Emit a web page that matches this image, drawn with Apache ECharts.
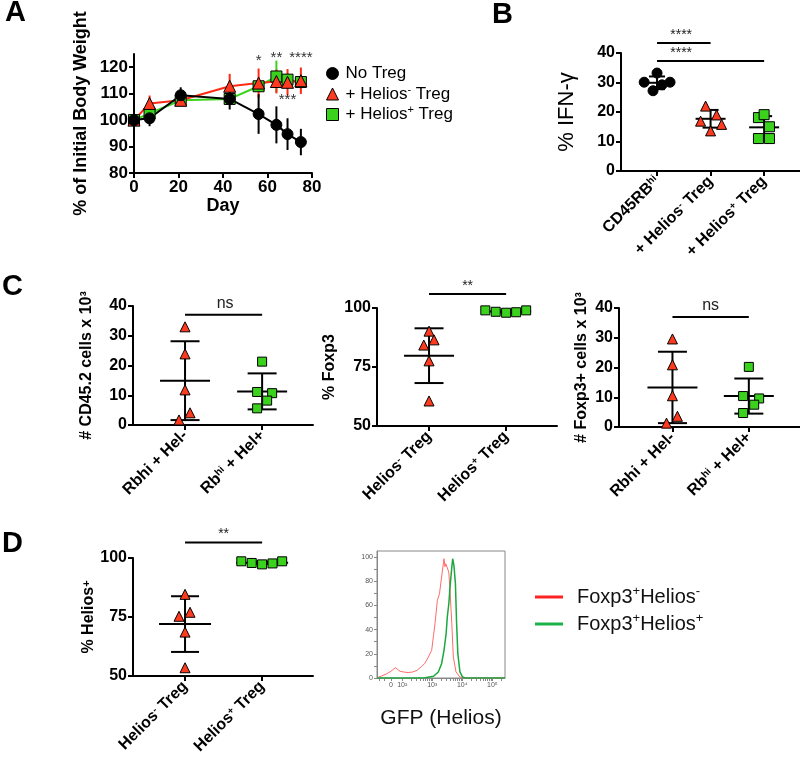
<!DOCTYPE html>
<html><head><meta charset="utf-8">
<script src="https://cdn.jsdelivr.net/npm/echarts@6/dist/echarts.min.js"></script>
<style>html,body{margin:0;padding:0;background:#fff}#c{width:800px;height:761px}</style>
</head><body><div id="c"></div><script>
const FONT = '"Liberation Sans", Arial, Helvetica, sans-serif';
const RED = '#ff3b1f', GREEN = '#3ad21c';

// ---------- Panel A : body weight ----------
const daysA = [0, 7, 21, 43, 56, 64, 69, 75];
const noTregMean = [100, 100.7, 109.4, 108, 102.3, 98.2, 94.7, 91.7];
const noTregSD   = [0, 3, 3, 4, 7.5, 7, 6, 5];
const helNegMean = [100, 106.3, 107.5, 112.8, 114, 114.6, 114.3, 114.9];
const helNegSD   = [0, 3, 1, 4.7, 5.5, 4.5, 5, 5];
const helPosMean = [100, 102.5, 107.5, 108, 112.8, 116.5, 115.3, 114.4];
const helPosSD   = [0, 2, 1, 1.5, 2, 6, 2.5, 2];
const sigADays = [56, 64, 75, 69];
const sigAY    = [122.3, 123.6, 123.6, 107.6];
const sigAText = ['*', '**', '****', '***'];
const legendA = ['No Treg', '+ Helios- Treg', '+ Helios+ Treg'];

// ---------- Panel B : IFN-gamma ----------
const bLabels = ['CD45RBhi', '+ Helios- Treg', '+ Helios+ Treg'];
const bNoTreg = [30.1, 27.2, 33.2, 29.2, 30.1];
const bNoTregOff = [-0.24, -0.075, 0, 0.093, 0.243];
const bHelNeg = [22, 16.9, 19, 15.8, 13.6];
const bHelNegOff = [-0.093, -0.187, 0.112, 0.206, 0];
const bHelPos = [18.1, 19.1, 15, 11, 11];
const bHelPosOff = [-0.106, 0, 0.1, -0.106, 0.1];
const bMean = [29.9, 17.7, 14.8];
const bSD = [2.15, 3, 3.8];
const bSigFrom = [1, 1], bSigTo = [2, 3], bSigY = [43.4, 37.3], bSigText = ['****', '****'];

// ---------- Panel C1 : CD45.2 cells ----------
const c1Labels = ['Rbhi + Hel-', 'Rb^hi + Hel+'];
const c1Neg = [33, 23.9, 11.8, 4.1, 1.7];
const c1NegOff = [0, 0, 0, 0.065, -0.078];
const c1Pos = [21.3, 11.1, 10.7, 8.2, 5.6];
const c1PosOff = [0, -0.065, 0.13, 0.065, -0.065];
const c1Mean = [14.9, 11.3], c1SD = [13.25, 6.05];
const c1SigY = 37.1, c1SigText = 'ns';

// ---------- Panel C2 : % Foxp3 ----------
const c2Labels = ['Helios- Treg', 'Helios+ Treg'];
const c2Neg = [90.2, 84.3, 86.5, 77.6, 60.6];
const c2NegOff = [0, -0.068, 0.065, 0, 0];
const c2Pos = [99, 98.4, 98, 98.2, 99];
const c2PosOff = [-0.27, -0.135, 0, 0.13, 0.26];
const c2Mean = [79.8, 98.5], c2SD = [11.6, 0.45];
const c2SigY = 105.9, c2SigText = '**';

// ---------- Panel C3 : Foxp3+ cells ----------
const c3Labels = ['Rbhi + Hel-', 'Rb^hi + Hel+'];
const c3Neg = [29.6, 20.9, 10.5, 3.6, 1.3];
const c3NegOff = [0, 0, 0, 0.065, -0.078];
const c3Pos = [20.2, 10.4, 9.6, 7.5, 4.7];
const c3PosOff = [0, -0.075, 0.135, 0.07, -0.075];
const c3Mean = [13.3, 10.4], c3SD = [12, 5.9];
const c3SigY = 37, c3SigText = 'ns';

// ---------- Panel D : % Helios+ ----------
const dLabels = ['Helios- Treg', 'Helios+ Treg'];
const dNeg = [84.6, 75.3, 77, 68.6, 53.5];
const dNegOff = [0, -0.078, 0.065, 0, 0];
const dPos = [98.6, 97.9, 97.3, 97.7, 98.6];
const dPosOff = [-0.27, -0.135, 0, 0.135, 0.26];
const dMean = [72, 98], dSD = [11.8, 0.5];
const dSigY = 106.6, dSigText = '**';

// ---------- Histogram ----------
const histRedX = [1.16,1.3,1.49,1.62,1.77,1.85,1.93,2.04,2.2,2.35,2.49,2.54,2.65,2.75,2.87,2.98,3.04,3.09,3.17,3.24,3.31,3.39,3.42,3.45,3.5,3.55,3.59,3.65,3.7,3.79,3.92,4.03,4.5,5.0,5.42];
const histRedY = [0.3,1.5,3.6,5.5,8.5,7,5.5,5,4.5,5,6.3,7.7,9.6,12,17.4,22.9,35,44.9,64.2,69.7,83.5,98.6,92,94.5,94,87.6,72.5,44.9,17.4,5,0.8,0,0,0,0];
const histGreenX = [1.16,2.5,2.76,3.04,3.2,3.31,3.39,3.46,3.5,3.55,3.59,3.65,3.68,3.72,3.77,3.81,3.85,3.92,4.01,4.09,5.42];
const histGreenY = [0,0,0.3,1.4,5,11.8,22.9,36.6,50.4,61.4,75.2,91.7,98.6,93.1,78,44.9,20.1,5,0.8,0,0];
const histXLabelVals = [1.62, 2, 3, 4, 5];
const histXLabels = ['0', '10²', '10³', '10⁴', '10⁵'];
const histLegend = ['Foxp3+Helios-', 'Foxp3+Helios+'];

// ================= helpers =================
const SUP = {
  b: {fontFamily: FONT, fontWeight: 'bold', fontSize: 16, color: '#000'},
  s: {fontFamily: FONT, fontWeight: 'bold', fontSize: 10, color: '#000', verticalAlign: 'top'}
};
function supText(t) {
  let m;
  if ((m = t.match(/^(.*)\^hi(.*)$/))) return '{b|' + m[1] + '}{s|hi}{b|' + m[2] + '}';
  if ((m = t.match(/^(.*Helios)([+-])(.*)$/))) return '{b|' + m[1] + '}{s|' + m[2] + '}' + (m[3] ? '{b|' + m[3] + '}' : '');
  if ((m = t.match(/^(.*RB)hi$/))) return '{b|' + m[1] + '}{s|hi}';
  return '{b|' + t + '}';
}
const axisLineBlack = {show: true, onZero: false, lineStyle: {color: '#000', width: 2}};
const tickBlack = {show: true, length: 5, lineStyle: {color: '#000', width: 2}};
function numLabel(fs) { return {color: '#000', fontFamily: FONT, fontWeight: 'bold', fontSize: fs, margin: 6}; }

function catX(gi, min, max, labels) {
  const vals = labels.map((_, i) => i + 1);
  return {type: 'value', gridIndex: gi, min, max, axisLine: axisLineBlack,
    axisTick: Object.assign({customValues: vals}, tickBlack), splitLine: {show: false},
    axisLabel: {customValues: vals, rotate: 45, margin: 8, interval: 0,
      formatter: v => supText(labels[Math.round(v) - 1]), rich: SUP}};
}
function numY(gi, min, max, interval, name, gap, nameStyle) {
  return {type: 'value', gridIndex: gi, min, max, interval, axisLine: axisLineBlack, axisTick: tickBlack,
    splitLine: {show: false}, axisLabel: numLabel(16), name, nameLocation: 'middle', nameGap: gap,
    nameMoveOverlap: false, nameTextStyle: nameStyle};
}
const boldName16 = {fontFamily: FONT, fontWeight: 'bold', fontSize: 16, color: '#000'};

const series = [];
function errBars(gi, data, opt) {
  series.push({type: 'custom', xAxisIndex: gi, yAxisIndex: gi, data, silent: true, z: 2,
    renderItem(params, api) {
      const x = api.value(0), m = api.value(1), s = api.value(2);
      const c = api.coord([x, m]), t = api.coord([x, m + s]), b = api.coord([x, m - s]);
      const st = {stroke: opt.color, lineWidth: opt.width};
      const ch = [];
      if (s > 0) ch.push({type: 'line', shape: {x1: c[0], y1: t[1], x2: c[0], y2: b[1]}, style: st});
      if (opt.mean) ch.push({type: 'line', shape: {x1: c[0] - opt.mean, y1: c[1], x2: c[0] + opt.mean, y2: c[1]}, style: st});
      if (opt.cap && s > 0) {
        ch.push({type: 'line', shape: {x1: c[0] - opt.cap, y1: t[1], x2: c[0] + opt.cap, y2: t[1]}, style: st});
        ch.push({type: 'line', shape: {x1: c[0] - opt.cap, y1: b[1], x2: c[0] + opt.cap, y2: b[1]}, style: st});
      }
      return {type: 'group', children: ch};
    }});
}
function dots(gi, cat, vals, offs, symbol, color, size) {
  series.push({type: 'scatter', xAxisIndex: gi, yAxisIndex: gi, z: 4,
    data: vals.map((v, i) => [cat + offs[i], v]), symbol, symbolSize: size,
    itemStyle: {color, borderColor: '#000', borderWidth: 1, opacity: 1}});
}
function sigBar(gi, x1, x2, y, tx, text, fs, gap) {
  series.push({type: 'custom', xAxisIndex: gi, yAxisIndex: gi, silent: true, z: 3,
    data: [[x1, y, x2, tx]],
    renderItem(params, api) {
      const a = api.coord([api.value(0), api.value(1)]);
      const b = api.coord([api.value(2), api.value(1)]);
      const t = api.coord([api.value(3), api.value(1)]);
      return {type: 'group', children: [
        {type: 'line', shape: {x1: a[0], y1: a[1], x2: b[0], y2: b[1]}, style: {stroke: '#000', lineWidth: 2}},
        {type: 'text', x: t[0], y: t[1] - gap, style: {text, fill: '#222', font: fs + 'px ' + FONT, align: 'center', verticalAlign: 'bottom'}}
      ]};
    }});
}
function dotPanel(gi, groups, means, sds, meanHalf, capHalf) {
  means.forEach((m, i) => errBars(gi, [[i + 1, m, sds[i]]], {color: '#000', width: 2, mean: meanHalf, cap: capHalf}));
  groups.forEach((g, i) => dots(gi, i + 1, g.v, g.o, g.sym, g.col, g.size));
}

// ---------- Panel A series ----------
errBars(0, daysA.map((d, i) => [d, helPosMean[i], helPosSD[i]]), {color: GREEN, width: 2});
errBars(0, daysA.map((d, i) => [d, helNegMean[i], helNegSD[i]]), {color: '#ff2a14', width: 2});
errBars(0, daysA.map((d, i) => [d, noTregMean[i], noTregSD[i]]), {color: '#000', width: 2});
series.push({type: 'line', name: legendA[2], xAxisIndex: 0, yAxisIndex: 0, z: 5,
  data: daysA.map((d, i) => [d, helPosMean[i]]), symbol: 'rect', symbolSize: 11, showAllSymbol: true,
  itemStyle: {color: GREEN, borderColor: '#000', borderWidth: 1}, lineStyle: {color: GREEN, width: 2}});
series.push({type: 'line', name: legendA[1], xAxisIndex: 0, yAxisIndex: 0, z: 5,
  data: daysA.map((d, i) => [d, helNegMean[i]]), symbol: 'triangle', symbolSize: 12, showAllSymbol: true,
  itemStyle: {color: RED, borderColor: '#000', borderWidth: 1}, lineStyle: {color: '#ff2a14', width: 2}});
series.push({type: 'line', name: legendA[0], xAxisIndex: 0, yAxisIndex: 0, z: 5,
  data: daysA.map((d, i) => [d, noTregMean[i]]), symbol: 'circle', symbolSize: 11, showAllSymbol: true,
  itemStyle: {color: '#000', borderColor: '#000', borderWidth: 1}, lineStyle: {color: '#000', width: 2}});
series.push({type: 'custom', xAxisIndex: 0, yAxisIndex: 0, silent: true, z: 6,
  data: sigADays.map((d, i) => [d, sigAY[i], i]),
  renderItem(params, api) {
    const c = api.coord([api.value(0), api.value(1)]);
    return {type: 'text', x: c[0], y: c[1], style: {text: sigAText[api.value(2)], fill: '#333', font: '15px ' + FONT, align: 'center', verticalAlign: 'middle'}};
  }});

// ---------- Panel B series ----------
dotPanel(1, [
  {v: bNoTreg, o: bNoTregOff, sym: 'circle', col: '#000', size: 10},
  {v: bHelNeg, o: bHelNegOff, sym: 'triangle', col: RED, size: 10},
  {v: bHelPos, o: bHelPosOff, sym: 'rect', col: GREEN, size: 10}], bMean, bSD, 15, 8);
bSigFrom.forEach((f, i) => sigBar(1, f, bSigTo[i], bSigY[i], 1.45, bSigText[i], 14, 1));

// ---------- Panel C ----------
dotPanel(2, [{v: c1Neg, o: c1NegOff, sym: 'triangle', col: RED, size: 10},
             {v: c1Pos, o: c1PosOff, sym: 'rect', col: GREEN, size: 9}], c1Mean, c1SD, 25, 14.5);
sigBar(2, 1, 2, c1SigY, 1.52, c1SigText, 16, 3);
dotPanel(3, [{v: c2Neg, o: c2NegOff, sym: 'triangle', col: RED, size: 10},
             {v: c2Pos, o: c2PosOff, sym: 'rect', col: GREEN, size: 9}], c2Mean, c2SD, 25, 14.5);
sigBar(3, 1, 2, c2SigY, 1.5, c2SigText, 14, 1);
dotPanel(4, [{v: c3Neg, o: c3NegOff, sym: 'triangle', col: RED, size: 10},
             {v: c3Pos, o: c3PosOff, sym: 'rect', col: GREEN, size: 9}], c3Mean, c3SD, 25, 14.5);
sigBar(4, 1, 2, c3SigY, 1.5, c3SigText, 16, 3);

// ---------- Panel D ----------
dotPanel(5, [{v: dNeg, o: dNegOff, sym: 'triangle', col: RED, size: 10},
             {v: dPos, o: dPosOff, sym: 'rect', col: GREEN, size: 9}], dMean, dSD, 26, 14);
sigBar(5, 1, 2, dSigY, 1.5, dSigText, 14, 1);

// ---------- Histogram ----------
series.push({type: 'line', name: histLegend[0], xAxisIndex: 6, yAxisIndex: 6, showSymbol: false, z: 3,
  data: histRedX.map((x, i) => [x, histRedY[i]]), lineStyle: {color: '#ff6a6a', width: 1}, itemStyle: {color: '#ff2222'}});
series.push({type: 'line', name: histLegend[1], xAxisIndex: 6, yAxisIndex: 6, showSymbol: false, z: 3,
  data: histGreenX.map((x, i) => [x, histGreenY[i]]), lineStyle: {color: '#1aa83c', width: 1.5}, itemStyle: {color: '#19b347'}});

const histTicks = [1.25, 1.4, 1.62];
for (let n = 2; n <= 4; n++) for (let k = 1; k <= 9; k++) histTicks.push(n + Math.log10(k));
histTicks.push(5, 5 + Math.log10(2), 5 + Math.log10(3));

const legRich = {
  a: {fontFamily: FONT, fontSize: 17, color: '#000', lineHeight: 20},
  s: {fontFamily: FONT, fontSize: 11, color: '#000', verticalAlign: 'top', lineHeight: 20}
};
const legRich2 = {
  a: {fontFamily: FONT, fontSize: 20, color: '#111', lineHeight: 24},
  s: {fontFamily: FONT, fontSize: 13, color: '#111', verticalAlign: 'top', lineHeight: 24}
};

const option = {
  animation: false,
  backgroundColor: '#fff',
  grid: [
    {left: 134, top: 54, width: 178, height: 119, outerBoundsMode: 'none'},
    {left: 621, top: 53, width: 179, height: 118, outerBoundsMode: 'none'},
    {left: 133, top: 306, width: 180, height: 119, outerBoundsMode: 'none'},
    {left: 377, top: 308, width: 180, height: 118, outerBoundsMode: 'none'},
    {left: 619, top: 308, width: 181, height: 119, outerBoundsMode: 'none'},
    {left: 133, top: 558, width: 180, height: 118, outerBoundsMode: 'none'},
    {left: 377, top: 551, width: 128, height: 127, outerBoundsMode: 'none', show: true, borderColor: '#888', borderWidth: 1, backgroundColor: 'transparent'}
  ],
  xAxis: [
    {type: 'value', gridIndex: 0, min: 0, max: 80, interval: 20, axisLine: axisLineBlack, axisTick: tickBlack,
      splitLine: {show: false}, axisLabel: numLabel(17), name: 'Day', nameLocation: 'middle', nameGap: 24,
      nameMoveOverlap: false, nameTextStyle: {fontFamily: FONT, fontWeight: 'bold', fontSize: 18, color: '#000'}},
    catX(1, 0.327, 3.67, bLabels),
    catX(2, 0.325, 2.66, c1Labels),
    catX(3, 0.325, 2.66, c2Labels),
    catX(4, 0.3, 2.67, c3Labels),
    catX(5, 0.325, 2.66, dLabels),
    {type: 'value', gridIndex: 6, min: 1.16, max: 5.42, axisLine: {show: true, onZero: false, lineStyle: {color: '#888', width: 1}},
      axisTick: {show: true, customValues: histTicks, length: 3, lineStyle: {color: '#888', width: 1}},
      splitLine: {show: false},
      axisLabel: {customValues: histXLabelVals, fontSize: 7, color: '#555', fontFamily: FONT, margin: 4,
        formatter: v => { const i = histXLabelVals.findIndex(u => Math.abs(u - v) < 1e-6); return i >= 0 ? histXLabels[i] : ''; }},
      name: 'GFP (Helios)', nameLocation: 'middle', nameGap: 30, nameMoveOverlap: false,
      nameTextStyle: {fontFamily: FONT, fontSize: 21, color: '#111'}}
  ],
  yAxis: [
    {type: 'value', gridIndex: 0, min: 80, max: 125, axisLine: axisLineBlack,
      axisTick: Object.assign({customValues: [80, 90, 100, 110, 120]}, tickBlack),
      splitLine: {show: false}, axisLabel: Object.assign({customValues: [80, 90, 100, 110, 120]}, numLabel(17)),
      name: '% of Initial Body Weight', nameLocation: 'middle', nameGap: 44, nameMoveOverlap: false,
      nameTextStyle: {fontFamily: FONT, fontWeight: 'bold', fontSize: 18, color: '#000'}},
    numY(1, 0, 40, 10, '% IFN-γ', 43, {fontFamily: FONT, fontSize: 22, color: '#000'}),
    numY(2, 0, 40, 10, '# CD45.2 cells x 10³', 38, boldName16),
    numY(3, 50, 100, 25, '% Foxp3', 39, boldName16),
    numY(4, 0, 40, 10, '# Foxp3+ cells x 10³', 29, boldName16),
    numY(5, 50, 100, 25, '{b|% Helios}{s|+}', 36, {rich: {
      b: {fontFamily: FONT, fontWeight: 'bold', fontSize: 16, color: '#000'},
      s: {fontFamily: FONT, fontWeight: 'bold', fontSize: 11, color: '#000', verticalAlign: 'top'}}}),
    {type: 'value', gridIndex: 6, min: 0, max: 105, axisLine: {show: true, onZero: false, lineStyle: {color: '#888', width: 1}},
      axisTick: {show: true, customValues: [0, 10, 20, 30, 40, 50, 60, 70, 80, 90, 100], length: 3, lineStyle: {color: '#888', width: 1}},
      splitLine: {show: false},
      axisLabel: {customValues: [0, 20, 40, 60, 80, 100], fontSize: 7, color: '#555', fontFamily: FONT, margin: 4}}
  ],
  legend: [
    {orient: 'vertical', left: 321, top: 60, itemWidth: 12, itemHeight: 12, itemGap: 2, selectedMode: false,
      data: [
        {name: legendA[0], icon: 'circle', itemStyle: {color: '#000', borderColor: '#000', borderWidth: 1}},
        {name: legendA[1], icon: 'triangle', itemStyle: {color: RED, borderColor: '#000', borderWidth: 1}},
        {name: legendA[2], icon: 'rect', itemStyle: {color: GREEN, borderColor: '#000', borderWidth: 1}}],
      formatter: n => n === 'No Treg' ? '{a|No Treg}' : n.replace(/^(\+ Helios)([+-])( Treg)$/, '{a|$1}{s|$2}{a|$3}'),
      textStyle: {padding: [0, 0, 0, 2], rich: legRich}},
    {orient: 'vertical', left: 530, top: 580, itemWidth: 28, itemHeight: 3, itemGap: 5, selectedMode: false, icon: 'rect',
      data: [
        {name: histLegend[0], itemStyle: {color: '#ff2222', borderWidth: 0}},
        {name: histLegend[1], itemStyle: {color: '#19b347', borderWidth: 0}}],
      formatter: n => n.replace(/^Foxp3\+Helios([+-])$/, '{a|Foxp3}{s|+}{a|Helios}{s|$1}'),
      textStyle: {padding: [0, 0, 0, 9], rich: legRich2}}
  ],
  graphic: [
    {type: 'text', x: 5, y: 12.5, style: {text: 'A', font: 'bold 29px ' + FONT, fill: '#000', verticalAlign: 'middle'}},
    {type: 'text', x: 492, y: 15, style: {text: 'B', font: 'bold 29px ' + FONT, fill: '#000', verticalAlign: 'middle'}},
    {type: 'text', x: 2, y: 286.5, style: {text: 'C', font: 'bold 29px ' + FONT, fill: '#000', verticalAlign: 'middle'}},
    {type: 'text', x: 2, y: 543.5, style: {text: 'D', font: 'bold 29px ' + FONT, fill: '#000', verticalAlign: 'middle'}}
  ],
  series
};
const chart = echarts.init(document.getElementById('c'), null, {renderer: 'canvas', width: 800, height: 761});
chart.setOption(option);
</script></body></html>
